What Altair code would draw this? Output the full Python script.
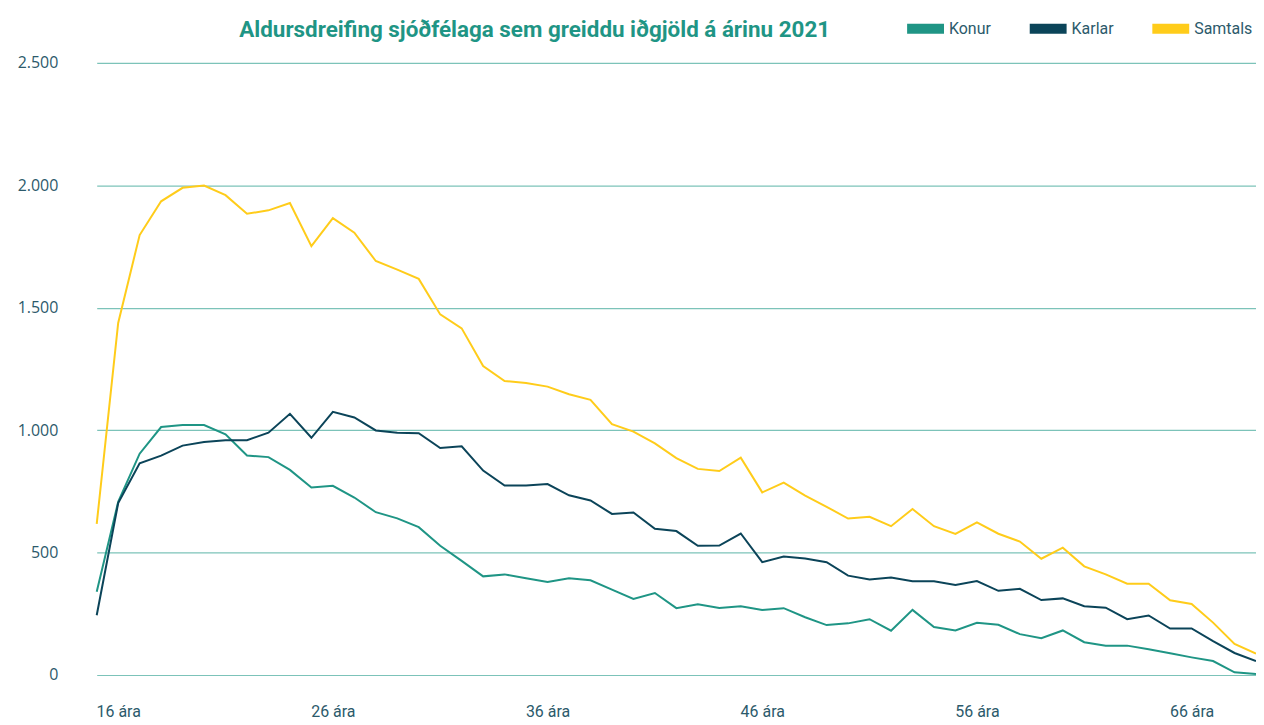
import altair as alt
import pandas as pd

ages = list(range(15, 70))

konur = [340, 707, 904, 1013, 1021, 1021, 983, 897, 890, 838, 766, 773, 725, 665, 640,
         604, 528, 466, 403, 411, 395, 380, 395, 387, 349, 311, 335, 273, 289,
         274, 281, 266, 273, 236, 204, 211, 228, 181, 266, 196, 182, 213,
         205, 167, 150, 182, 134, 120, 120, 105, 89, 72, 57, 11, 4]

karlar = [244, 702, 865, 896, 937, 952, 959, 959, 990, 1067, 969, 1075, 1052, 999, 990,
          988, 927, 934, 835, 774, 774, 780, 734, 713, 658, 664, 597, 588, 528,
          529, 578, 461, 484, 476, 461, 406, 390, 398, 383, 383, 368, 384,
          344, 352, 306, 313, 281, 275, 228, 243, 190, 190, 138, 90, 57]

samtals = [617, 1438, 1797, 1935, 1990, 1999, 1960, 1884, 1898, 1928, 1752, 1866, 1807, 1691, 1656,
           1618, 1473, 1416, 1262, 1201, 1193, 1178, 1147, 1124, 1025, 994, 946, 886, 842,
           833, 888, 746, 786, 733, 687, 639, 646, 608, 678, 608, 576, 623,
           577, 545, 475, 520, 444, 411, 373, 373, 305, 290, 214, 127, 87]

series_names = ["Konur", "Karlar", "Samtals"]
series_colors = ["#1F9585", "#0B4459", "#FFCC1A"]
x_tick_values = [16, 26, 36, 46, 56, 66]
y_tick_values = [0, 500, 1000, 1500, 2000, 2500]
title_text = "Aldursdreifing sjóðfélaga sem greiddu iðgjöld á árinu 2021"

rows = []
for name, vals in zip(series_names, [konur, karlar, samtals]):
    for a, v in zip(ages, vals):
        rows.append({"age": a, "value": v, "series": name})
df = pd.DataFrame(rows)

FONT = "Roboto, sans-serif"
LABEL_COLOR = "#2C5A6B"

chart = alt.Chart(df).mark_line(strokeWidth=2).encode(
    x=alt.X("age:Q",
            scale=alt.Scale(domain=[15, 69], nice=False, zero=False),
            axis=alt.Axis(values=x_tick_values, labelExpr="datum.value + ' ára'",
                          title=None, grid=False, domain=False, ticks=False,
                          labelPadding=29, labelFontSize=16, labelColor=LABEL_COLOR,
                          labelFont=FONT)),
    y=alt.Y("value:Q",
            scale=alt.Scale(domain=[0, 2500], nice=False),
            axis=alt.Axis(values=y_tick_values,
                          labelExpr="replace(format(datum.value, ','), ',', '.')",
                          title=None, domain=False, ticks=False,
                          gridColor="#7CC3B9", gridWidth=1.2,
                          labelPadding=39, labelFontSize=16, labelColor=LABEL_COLOR,
                          labelFont="'Open Sans', sans-serif")),
    color=alt.Color("series:N",
                    scale=alt.Scale(domain=series_names, range=series_colors),
                    sort=series_names,
                    legend=alt.Legend(title=None, orient="none", direction="horizontal",
                                      legendX=808, legendY=-58, padding=0,
                                      symbolType="stroke", symbolSize=1369,
                                      symbolStrokeWidth=10,
                                      labelOffset=0, columnPadding=18,
                                      labelFontSize=16, labelColor=LABEL_COLOR, labelFont=FONT)),
).properties(
    width=1163,
    height=614,
    autosize="none",
    padding={"left": 89, "top": 54, "right": 0, "bottom": 49},
    title=alt.TitleParams(text=title_text, anchor="start", frame="group", dx=143,
                          offset=0, dy=36, fontSize=22.5, fontWeight="bold",
                          color="#1F9585", font=FONT),
).configure_view(stroke=None)

chart.save("out.html", embed_options={"renderer": "svg", "actions": False})
